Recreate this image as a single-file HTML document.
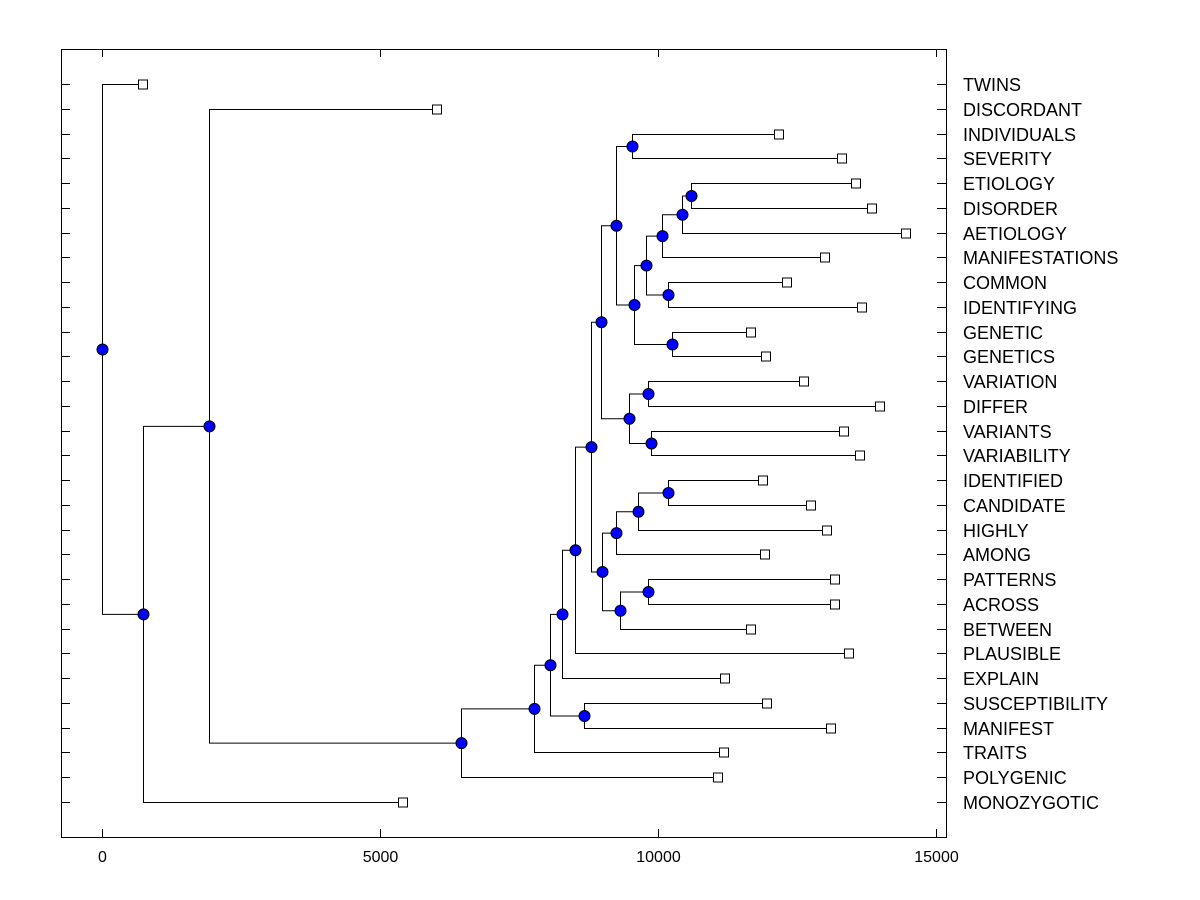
<!DOCTYPE html>
<html><head><meta charset="utf-8"><style>
html,body{margin:0;padding:0;background:#fff;}
svg{display:block;font-family:"Liberation Sans",Arial,sans-serif;}
</style></head><body>
<svg id="chart" width="1200" height="900" viewBox="0 0 1200 900"></svg>
<script>
// Leaf labels (top to bottom) and their merge distances
const leafLabels = ["TWINS","DISCORDANT","INDIVIDUALS","SEVERITY","ETIOLOGY","DISORDER","AETIOLOGY","MANIFESTATIONS","COMMON","IDENTIFYING","GENETIC","GENETICS","VARIATION","DIFFER","VARIANTS","VARIABILITY","IDENTIFIED","CANDIDATE","HIGHLY","AMONG","PATTERNS","ACROSS","BETWEEN","PLAUSIBLE","EXPLAIN","SUSCEPTIBILITY","MANIFEST","TRAITS","POLYGENIC","MONOZYGOTIC"];
const leafValues = [737,6025,12176,13309,13561,13849,14460,13004,12320,13669,11673,11942,12626,13993,13345,13633,11888,12752,13040,11924,13183,13183,11673,13435,11205,11960,13112,11187,11079,5414];
// Internal node heights (cluster distances)
const nodeNames = ["root","A","B","C","D","E","F","G","H","I","J","L","N","O","P","R","T","U","S","Q","M","V","W","K","X","Z","AA","Y","BB"];
const nodeHeights = [0,737,1924,6457,7770,8058,8273,8669,8507,8795,8975,9245,9532,9568,9784,10072,10432,10594,10180,10252,9478,9820,9874,8993,9245,9640,10180,9317,9820];
// Tree structure: children are node names or leaf labels
const nodeChildren = {
 root:["TWINS","A"], A:["B","MONOZYGOTIC"], B:["DISCORDANT","C"], C:["D","POLYGENIC"],
 D:["E","TRAITS"], E:["F","G"], G:["SUSCEPTIBILITY","MANIFEST"], F:["H","EXPLAIN"],
 H:["I","PLAUSIBLE"], I:["J","K"], J:["L","M"], L:["N","O"], N:["INDIVIDUALS","SEVERITY"],
 O:["P","Q"], P:["R","S"], R:["T","MANIFESTATIONS"], T:["U","AETIOLOGY"], U:["ETIOLOGY","DISORDER"],
 S:["COMMON","IDENTIFYING"], Q:["GENETIC","GENETICS"], M:["V","W"], V:["VARIATION","DIFFER"],
 W:["VARIANTS","VARIABILITY"], K:["X","Y"], X:["Z","AMONG"], Z:["AA","HIGHLY"],
 AA:["IDENTIFIED","CANDIDATE"], Y:["BB","BETWEEN"], BB:["PATTERNS","ACROSS"]
};
const xTicks = [0,5000,10000,15000];

const NS="http://www.w3.org/2000/svg";
const svg=document.getElementById('chart');
const L=61,R=946,T=49,B=837;
const xS=v=>102+v*(936-102)/15000;
const yS=i=>84+i*(802-84)/29;
function mk(tag,attrs,parent){const e=document.createElementNS(NS,tag);for(const k in attrs)e.setAttribute(k,attrs[k]);(parent||svg).appendChild(e);return e;}

const frame=mk('rect',{x:L+0.5,y:T+0.5,width:R-L,height:B-T,fill:'none',stroke:'#000','stroke-width':1});



xTicks.forEach(t=>{
  const x=Math.round(xS(t))+0.5;
  const a=mk('line',{x1:x,y1:B,x2:x,y2:B-8,stroke:'#000'});
  
  
  const b=mk('line',{x1:x,y1:T,x2:x,y2:T+8,stroke:'#000'});
  
  
  const tx=mk('text',{x:x,y:862,'text-anchor':'middle','font-size':16,fill:'#000'});
  tx.textContent=t;
  
  
});

const pos={};
leafLabels.forEach((lab,i)=>{
  const y=Math.round(yS(i))+0.5;
  pos[lab]={x:xS(leafValues[i]),y:y,leaf:true};
  const a=mk('line',{x1:L,y1:y,x2:L+9,y2:y,stroke:'#000'});
  
  
  const b=mk('line',{x1:R,y1:y,x2:R-9,y2:y,stroke:'#000'});
  
  
  const tx=mk('text',{x:963,y:y+6.5,'font-size':18,fill:'#000'});
  tx.textContent=lab;
  
  
});

const heightOf={};nodeNames.forEach((n,i)=>heightOf[n]=nodeHeights[i]);
function place(n){
  if(pos[n])return pos[n];
  const c=nodeChildren[n].map(place);
  pos[n]={x:xS(heightOf[n]),y:(c[0].y+c[1].y)/2,leaf:false};
  return pos[n];
}
place('root');
const lines=mk('g',{stroke:'#000','stroke-width':1,fill:'none'});


nodeNames.forEach(n=>{
  const p=pos[n],x=Math.round(p.x)+0.5;
  const [c1,c2]=nodeChildren[n].map(c=>pos[c]);
  const pl=mk('polyline',{points:`${c1.x},${c1.y} ${x},${c1.y} ${x},${c2.y} ${c2.x},${c2.y}`},lines);
  
  
});
leafLabels.forEach(lab=>{
  const p=pos[lab];
  const r=mk('rect',{x:Math.round(p.x)-4.5,y:p.y-4.5,width:9,height:9,fill:'#fff',stroke:'#000'});
  
  
});
nodeNames.forEach(n=>{
  const p=pos[n];
  const c=mk('circle',{cx:Math.round(p.x)+0.5,cy:p.y,r:5.5,fill:'#0000ff',stroke:'#000'});
  
  
});
</script>
</body></html>
